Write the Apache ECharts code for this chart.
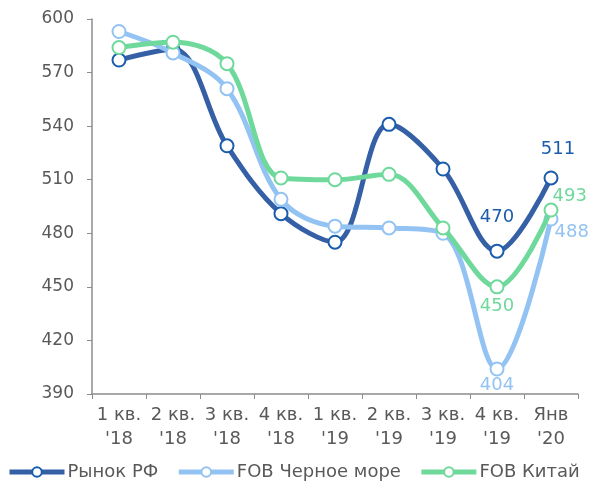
<!DOCTYPE html>
<html>
<head>
<meta charset="utf-8">
<title>echarts</title>
<style>
html,body{margin:0;padding:0;background:#fff;}
#container{width:593px;height:481px;}
</style>
</head>
<body>
<div id="container"></div>
<script src="https://cdn.jsdelivr.net/npm/echarts@6/dist/echarts.min.js"></script>
<script>
    var categories = ["1 кв.\n'18", "2 кв.\n'18", "3 кв.\n'18", "4 кв.\n'18", "1 кв.\n'19", "2 кв.\n'19", "3 кв.\n'19", "4 кв.\n'19", "Янв\n'20"];
    var rusMarket = [577, 583, 529, 491, 475, 541, 516, 470, 511];
    var fobBlackSea = [593, 581, 561, 499, 484, 483, 480, 404, 488];
    var fobChina = [584, 587, 575, 511, 510, 513, 483, 450, 493];
    var seriesNames = ['Рынок РФ', 'FOB Черное море', 'FOB Китай'];

    var font = 'DejaVu Sans, Verdana, sans-serif';

    // подписи только у двух последних точек
    function lastLabels(data, color, posPrev, posLast) {
        return data.map(function (v, i) {
            if (i < data.length - 2) return v;
            var p = i === data.length - 1 ? posLast : posPrev;
            return {
                value: v,
                label: {
                    show: true,
                    position: p[0],
                    distance: p[2],
                    offset: p[1],
                    color: color,
                    fontSize: 18,
                    fontFamily: font
                }
            };
        });
    }

    function makeSeries(name, data, lineColor, markColor, posPrev, posLast, z) {
        return {
            name: name,
            type: 'line',
            smooth: 0.35,
            symbol: 'circle',
            symbolSize: 13,
            showAllSymbol: true,
            z: z,
            lineStyle: { color: lineColor, width: 5 },
            itemStyle: { color: '#fff', borderColor: markColor, borderWidth: 2 },
            emphasis: { disabled: true },
            data: lastLabels(data, markColor, posPrev, posLast)
        };
    }

    var option = {
        animation: false,
        grid: { left: 92, right: 15, top: 19, bottom: 87 },
        legend: {
            bottom: 0,
            left: 7,
            padding: 0,
            itemWidth: 55,
            itemHeight: 12,
            itemGap: 18,
            lineStyle: { width: 5 },
            textStyle: { fontFamily: font, fontSize: 18, color: '#595959', padding: [0, 0, 0, -2] },
            data: seriesNames
        },
        xAxis: {
            type: 'category',
            boundaryGap: true,
            data: categories,
            axisLine: { lineStyle: { color: '#8c8c8c', width: 1.5 } },
            axisTick: { show: true, length: 5, lineStyle: { color: '#8c8c8c' } },
            axisLabel: { color: '#595959', fontFamily: font, fontSize: 18, lineHeight: 24, margin: 9, interval: 0 }
        },
        yAxis: {
            type: 'value',
            min: 390,
            max: 600,
            interval: 30,
            splitLine: { show: false },
            axisLine: { show: true, lineStyle: { color: '#8c8c8c', width: 1.5 } },
            axisTick: { show: true, length: 5, lineStyle: { color: '#8c8c8c' } },
            axisLabel: { color: '#595959', fontFamily: font, fontSize: 17, margin: 18 }
        },
        series: [
            makeSeries(seriesNames[0], rusMarket, '#3560A6', '#1A5DAD', ['top', [0, -9], 8], ['top', [7, -4], 8], 1),
            makeSeries(seriesNames[1], fobBlackSea, '#93C3F3', '#93C3F3', ['bottom', [0, -8], 8], ['right', [-4, 13], 0], 2),
            makeSeries(seriesNames[2], fobChina, '#6FD99C', '#6FD99C', ['bottom', [0, -5], 8], ['right', [-6, -14], 0], 3)
        ]
    };
    var myChart = echarts.init(document.getElementById('container'));
    myChart.setOption(option, true);
</script>
</body>
</html>
